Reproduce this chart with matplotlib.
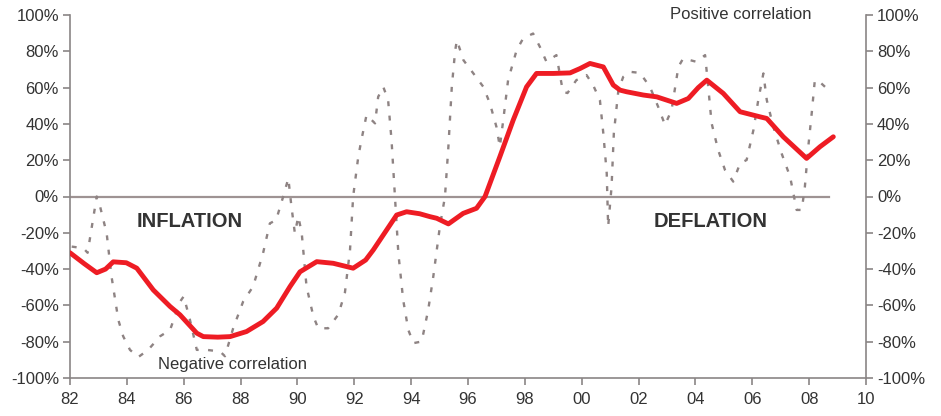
import matplotlib
matplotlib.use("Agg")
import matplotlib.pyplot as plt
from matplotlib.ticker import FixedLocator, FuncFormatter

plt.rcParams['font.family'] = ['Liberation Sans', 'DejaVu Sans']

# Smoothed correlation (red)
red_years = [1982.0, 1982.5, 1982.94, 1983.25, 1983.52, 1983.98, 1984.35, 1984.93, 1985.52, 1985.87,
             1986.46, 1986.69, 1987.2, 1987.63, 1988.21, 1988.79, 1989.27, 1989.74, 1990.09, 1990.68,
             1991.26, 1991.96, 1992.4, 1992.67, 1993.02, 1993.49, 1993.84, 1994.3, 1994.66, 1994.9,
             1995.31, 1995.83, 1996.3, 1996.6, 1997.12, 1997.59, 1998.06, 1998.41, 1999.0, 1999.59,
             1999.94, 2000.29, 2000.76, 2001.11, 2001.35, 2001.58, 2002.17, 2002.64, 2003.34, 2003.75,
             2004.1, 2004.4, 2004.98, 2005.57, 2006.27, 2006.51, 2007.09, 2007.91, 2008.38, 2008.85]
red_vals = [-31, -37, -42, -40, -36, -36.5, -39.5, -51.5, -60.6, -65.2,
            -75.3, -77.2, -77.5, -77.2, -74.4, -68.9, -61.5, -49.6, -41.5, -35.9,
            -36.8, -39.5, -35, -29.4, -21.2, -10.2, -8.4, -9.5, -11.1, -12.0,
            -15.1, -9.3, -6.5, 0, 21.9, 42.1, 60.4, 67.8, 67.8, 68.1,
            70.5, 73.3, 71.4, 61.4, 58.6, 57.7, 55.9, 54.9, 51.3, 54.0,
            60, 64.1, 56.8, 46.7, 43.9, 43.0, 32.9, 21.0, 27.4, 32.9]

# Raw correlation (grey dotted)
grey_years = [1982.06, 1982.47, 1982.62, 1982.94, 1983.05, 1983.29, 1983.46, 1983.7, 1983.87, 1984.11,
              1984.4, 1984.75, 1985.17, 1985.52, 1985.87, 1986.0, 1986.22, 1986.46, 1986.81, 1987.28,
              1987.45, 1987.74, 1988.09, 1988.44, 1988.79, 1989.03, 1989.25, 1989.5, 1989.68, 1989.79,
              1989.91, 1990.03, 1990.15, 1990.32, 1990.56, 1990.73, 1991.08, 1991.44, 1991.67, 1991.85,
              1991.96, 1992.14, 1992.25, 1992.43, 1992.73, 1992.84, 1993.02, 1993.19, 1993.31, 1993.43,
              1993.55, 1993.72, 1993.9, 1994.08, 1994.37, 1994.6, 1994.78, 1995.01, 1995.19, 1995.31,
              1995.43, 1995.55, 1995.61, 1995.84, 1996.19, 1996.54, 1996.77, 1997.0, 1997.12, 1997.24,
              1997.41, 1997.71, 1997.94, 1998.29, 1998.53, 1998.76, 1999.11, 1999.34, 1999.5, 1999.81,
              2000.17, 2000.4, 2000.64, 2000.76, 2000.88, 2000.93, 2001.05, 2001.13, 2001.29, 2001.46,
              2001.7, 2002.05, 2002.4, 2002.69, 2002.93, 2003.16, 2003.4, 2003.57, 2004.04, 2004.34,
              2004.45, 2004.57, 2004.8, 2005.04, 2005.33, 2005.57, 2005.8, 2006.04, 2006.21, 2006.39,
              2006.51, 2006.74, 2007.03, 2007.33, 2007.56, 2007.74, 2007.85, 2007.97, 2008.09, 2008.2,
              2008.38, 2008.56]
grey_vals = [-27.6, -28.5, -31, 0, -5, -20.3, -44, -68, -77, -84.5,
             -88.5, -84.5, -77, -73.5, -58, -55, -68, -84.5, -84.5, -85.4,
             -88, -72.6, -57.9, -49.6, -31.3, -14.8, -13, 0, 10, -5.6,
             -20.3, -11, -20, -49.6, -66, -72.6, -72.6, -65, -53, -29.4,
             0, 21.9, 31.1, 44.9, 40.3, 54.9, 60.4, 53.1, 31.1, 0,
             -31.3, -57, -73.5, -80.8, -79.9, -62.5, -44, -16.6, 0, 27.4,
             60.4, 80.6, 86.1, 75.1, 67.8, 60.4, 51.3, 38.4, 27.4, 42.1,
             64.1, 80.6, 87.1, 89.8, 82.4, 74.2, 77.9, 57.7, 57, 64.1,
             66.9, 61.4, 53.1, 34.8, 12.8, -16.6, 5.4, 34.8, 58.6, 65.9,
             68.7, 68.1, 60.4, 49.4, 39.4, 47.6, 71.4, 76.1, 74.2, 77.9,
             60.4, 40.3, 25.6, 14.6, 8.2, 18.3, 20.1, 36.6, 53.1, 67.8,
             53.1, 38.4, 23.8, 10.9, -7.4, -7.4, 5.4, 27.4, 45.8, 64.1,
             63, 60.4]

x_ticks = list(range(1982, 2011, 2))
y_ticks = list(range(-100, 101, 20))

fig = plt.figure(figsize=(9.41, 4.16), dpi=100)
ax = fig.add_axes([70/941, 38/416, 796/941, 363/416])

spine_col = '#8a8585'
text_col = '#333333'

ax.plot([1982, 2008.7], [0, 0], color='#9e9393', lw=1.6, zorder=1)
ax.plot(grey_years, grey_vals, color='#8e8383', lw=1.7, linestyle=(0, (2.1, 4.0)), zorder=2)
ax.plot(red_years, red_vals, color='#ee1c24', lw=3.5, solid_capstyle='round',
        solid_joinstyle='round', zorder=3)

ax.set_xlim(1982, 2010)
ax.set_ylim(-100, 100)
ax.xaxis.set_major_locator(FixedLocator(x_ticks))
ax.xaxis.set_major_formatter(FuncFormatter(lambda v, p: f"{int(round(v)) % 100:02d}"))
ax.yaxis.set_major_locator(FixedLocator(y_ticks))
ax.yaxis.set_major_formatter(FuncFormatter(lambda v, p: f"{int(round(v))}%"))

for s in ['left', 'right', 'bottom']:
    ax.spines[s].set_color(spine_col)
    ax.spines[s].set_linewidth(1.2)
ax.spines['top'].set_visible(False)

ax.tick_params(axis='y', which='both', left=True, right=True, labelleft=True, labelright=True,
               direction='out', length=5, width=1.2, color=spine_col, labelsize=12,
               labelcolor=text_col, pad=3)
ax.tick_params(axis='x', direction='out', length=5, width=1.2, color=spine_col,
               labelsize=12, labelcolor=text_col, pad=5)

ax.text(1986.22, -13.5, 'INFLATION', fontsize=14.5, fontweight='bold', color=text_col,
        ha='center', va='center')
ax.text(2004.55, -13.5, 'DEFLATION', fontsize=14.5, fontweight='bold', color=text_col,
        ha='center', va='center')
ax.text(1985.1, -92.5, 'Negative correlation', fontsize=12, color=text_col, ha='left', va='center')
ax.text(2003.1, 100.5, 'Positive correlation', fontsize=12, color=text_col, ha='left', va='center')

fig.savefig('out.png', dpi=100)
